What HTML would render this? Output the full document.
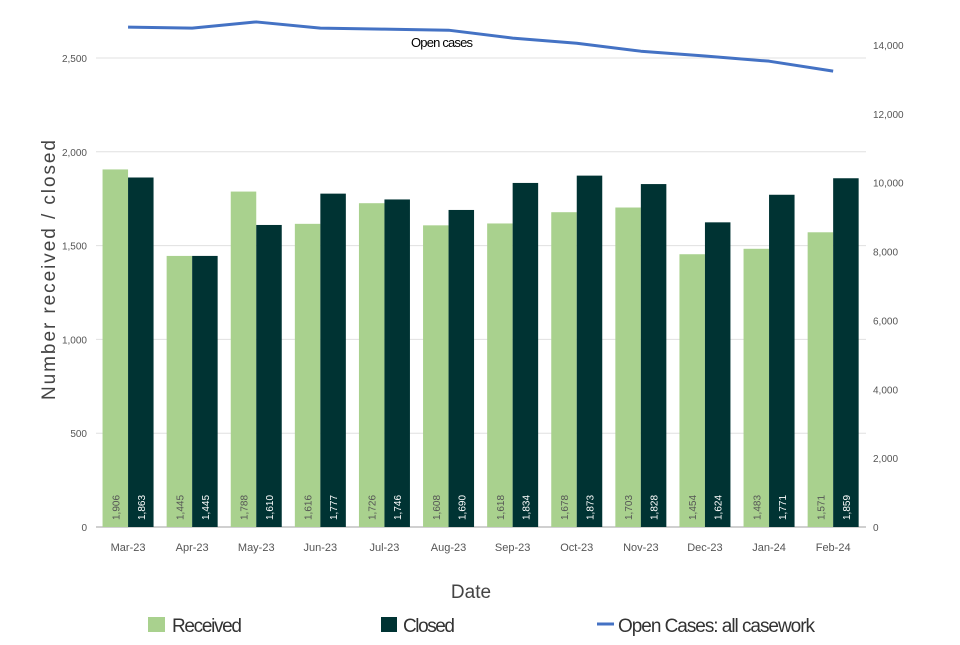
<!DOCTYPE html>
<html><head><meta charset="utf-8"><style>
body{margin:0;background:#fff;}
svg text{font-family:"Liberation Sans",sans-serif;}
</style></head><body>
<svg id="chart" width="960" height="640" xmlns="http://www.w3.org/2000/svg">
<g id="grid"></g><g id="bars"></g><g id="line"></g><g id="axes"></g>
<text x="55" y="270" transform="rotate(-90 55 270)" text-anchor="middle" font-size="19" fill="#444" textLength="260">Number received / closed</text>
<text x="471" y="598" text-anchor="middle" font-size="19" fill="#444">Date</text>
<text x="442" y="47" text-anchor="middle" font-size="13" fill="#000" textLength="62">Open cases</text>
<g>
<rect x="148" y="617" width="17" height="15" fill="#a9d18e"/>
<text x="172" y="632" font-size="19" fill="#333" textLength="70">Received</text>
<rect x="381" y="617" width="16" height="15" fill="#003333"/>
<text x="403" y="632" font-size="19" fill="#333" textLength="52">Closed</text>
<line x1="597" y1="624" x2="614" y2="624" stroke="#4472c4" stroke-width="3"/>
<text x="618" y="632" font-size="19" fill="#333" textLength="197">Open Cases: all casework</text>
</g>
</svg>
<script>
const categories=["Mar-23","Apr-23","May-23","Jun-23","Jul-23","Aug-23","Sep-23","Oct-23","Nov-23","Dec-23","Jan-24","Feb-24"];
const received=[1906,1445,1788,1616,1726,1608,1618,1678,1703,1454,1483,1571];
const closed=[1863,1445,1610,1777,1746,1690,1834,1873,1828,1624,1771,1859];
const openCases=[14520,14490,14670,14490,14460,14430,14200,14050,13820,13680,13530,13240];
const leftTicks=[0,500,1000,1500,2000,2500];
const rightTicks=[0,2000,4000,6000,8000,10000,12000,14000];
const NS="http://www.w3.org/2000/svg";
const x0=96,step=64.1,y0=527;
const yL=v=>y0-v*(469/2500);
const yR=v=>y0-v*(482/14000);
const cx=i=>x0+step*(i+0.5);
function mk(t,a,p){const e=document.createElementNS(NS,t);for(const k in a)e.setAttribute(k,a[k]);p.appendChild(e);return e;}
const g=document.getElementById('grid'),b=document.getElementById('bars'),l=document.getElementById('line'),ax=document.getElementById('axes');
leftTicks.forEach(v=>{
 const ln=mk('line',{x1:x0,x2:866,y1:yL(v),y2:yL(v),stroke:v==0?'#d0d0d0':'#e0e0e0','stroke-width':v==0?2:1},g);
 
 
 const t=mk('text',{x:87,y:yL(v)+4,'text-anchor':'end','font-size':10,fill:'#555'},ax);t.textContent=v.toLocaleString('en-US');
 
 
});
rightTicks.forEach(v=>{
 const t=mk('text',{x:873,y:yR(v)+4,'font-size':10,fill:'#555'},ax);t.textContent=v.toLocaleString('en-US');
 
 
});
categories.forEach((c,i)=>{
 const w=25.5;
 [[received[i],'#a9d18e',cx(i)-w,'#555','bar-received'],[closed[i],'#003333',cx(i),'#fff','bar-closed']].forEach(([v,col,x,tc,nm])=>{
  const r=mk('rect',{x:x,y:yL(v),width:w,height:y0-yL(v),fill:col},b);
  
  
  const tx=x+w/2+4,ty=520;
  const t=mk('text',{x:tx,y:ty,transform:`rotate(-90 ${tx} ${ty})`,'font-size':10,fill:tc},b);t.textContent=v.toLocaleString('en-US');
  
  
 });
 const t=mk('text',{x:cx(i),y:551,'text-anchor':'middle','font-size':11,fill:'#555'},ax);t.textContent=c;
 
 
});
const p=mk('polyline',{points:openCases.map((v,i)=>cx(i)+','+yR(v)).join(' '),fill:'none',stroke:'#4472c4','stroke-width':3,'stroke-linejoin':'round'},l);


</script>
</body></html>
